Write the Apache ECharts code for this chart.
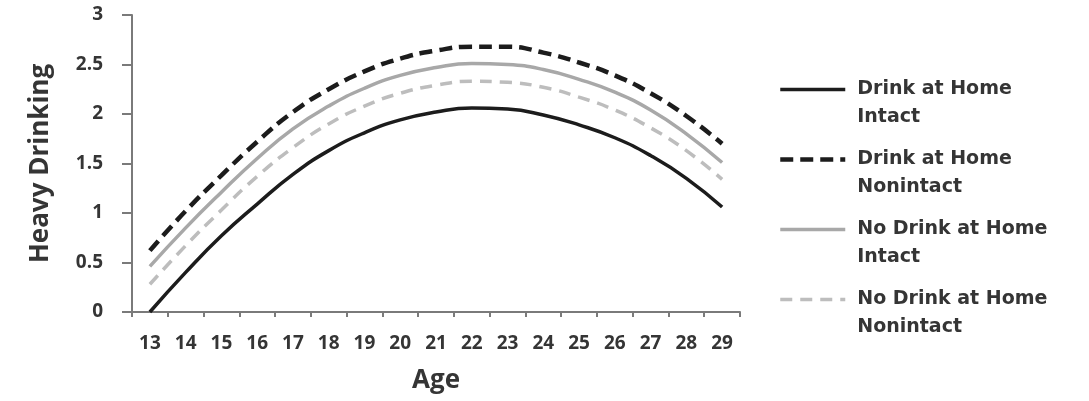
<!DOCTYPE html>
<html>
<head>
<meta charset="utf-8">
<script src="https://cdn.jsdelivr.net/npm/echarts@6/dist/echarts.min.js"></script>
<style>html,body{margin:0;padding:0;background:#fff;}#c{width:1089px;height:401px;}</style>
</head>
<body>
<div id="c"></div>
<script>
const ages = ['13','14','15','16','17','18','19','20','21','22','23','24','25','26','27','28','29'];
const seriesNames = ['Drink at Home Intact','Drink at Home Nonintact','No Drink at Home Intact','No Drink at Home Nonintact'];
const legendLabels = ['\nDrink at Home\nIntact','\nDrink at Home\nNonintact','\nNo Drink at Home\nIntact','\nNo Drink at Home\nNonintact'];
const drinkHomeIntact      = [0.00, 0.40, 0.77, 1.09, 1.39, 1.63, 1.81, 1.94, 2.02, 2.06, 2.05, 1.99, 1.89, 1.76, 1.58, 1.35, 1.06];
const drinkHomeNonintact   = [0.62, 1.02, 1.38, 1.72, 2.02, 2.25, 2.43, 2.56, 2.64, 2.68, 2.68, 2.62, 2.52, 2.39, 2.21, 1.98, 1.70];
const noDrinkHomeIntact    = [0.46, 0.85, 1.21, 1.55, 1.85, 2.08, 2.26, 2.39, 2.47, 2.51, 2.50, 2.45, 2.35, 2.22, 2.04, 1.80, 1.51];
const noDrinkHomeNonintact = [0.28, 0.67, 1.03, 1.37, 1.66, 1.90, 2.08, 2.21, 2.29, 2.33, 2.32, 2.27, 2.17, 2.04, 1.86, 1.63, 1.34];
const yTicks = {min: 0, max: 3, interval: 0.5};

const textColor = '#353535';
const labelFont = 'Open Sans';
const styles = [
  {color: '#1c1c1c', width: 3.5, type: 'solid'},
  {color: '#1c1c1c', width: 4.5, type: [13, 7]},
  {color: '#a8a8a8', width: 3.5, type: 'solid'},
  {color: '#bdbdbd', width: 3.5, type: [12, 8]}
];
const dataSets = [drinkHomeIntact, drinkHomeNonintact, noDrinkHomeIntact, noDrinkHomeNonintact];
const labelMap = {};
seriesNames.forEach((n, i) => labelMap[n] = legendLabels[i]);

const chart = echarts.init(document.getElementById('c'), null, {renderer: 'canvas'});
chart.setOption({
  backgroundColor: '#ffffff',
  animation: false,
  grid: {left: 132, right: 349, top: 15, bottom: 89, containLabel: false},
  legend: {
    orient: 'vertical',
    left: 778,
    top: 47.5,
    padding: 0,
    itemGap: -14,
    itemWidth: 65,
    itemHeight: 14,
    data: seriesNames,
    formatter: n => labelMap[n],
    itemStyle: {opacity: 0},
    lineStyle: {width: 'inherit'},
    textStyle: {
      color: textColor, fontFamily: 'DejaVu Sans', fontWeight: 'bold', fontSize: 19,
      lineHeight: 28, padding: [0, 0, 0, 7]
    }
  },
  xAxis: {
    type: 'category',
    data: ages,
    boundaryGap: true,
    name: 'Age',
    nameLocation: 'middle',
    nameGap: 56,
    nameTextStyle: {color: textColor, fontFamily: labelFont, fontWeight: 'bold', fontSize: 26},
    axisLine: {lineStyle: {color: '#7a7a7a', width: 2}},
    axisTick: {show: true, length: 5, interval: 0, lineStyle: {color: '#7a7a7a', width: 2}},
    axisLabel: {interval: 0, margin: 22, color: textColor, fontFamily: labelFont, fontWeight: 'bold', fontSize: 19},
    splitLine: {show: false}
  },
  yAxis: {
    type: 'value',
    min: yTicks.min, max: yTicks.max, interval: yTicks.interval,
    name: 'Heavy Drinking',
    nameLocation: 'middle',
    nameGap: 78,
    nameTextStyle: {color: textColor, fontFamily: labelFont, fontWeight: 'bold', fontSize: 26},
    axisLine: {show: true, lineStyle: {color: '#7a7a7a', width: 2}},
    axisTick: {show: true, length: 10, lineStyle: {color: '#7a7a7a', width: 2}},
    axisLabel: {margin: 29, color: textColor, fontFamily: labelFont, fontWeight: 'bold', fontSize: 19},
    splitLine: {show: false}
  },
  series: seriesNames.map((n, i) => ({
    name: n,
    type: 'line',
    data: dataSets[i],
    smooth: true,
    symbol: 'none',
    lineStyle: styles[i],
    itemStyle: {color: styles[i].color},
    z: 10 - i
  }))
});
</script>
</body>
</html>
